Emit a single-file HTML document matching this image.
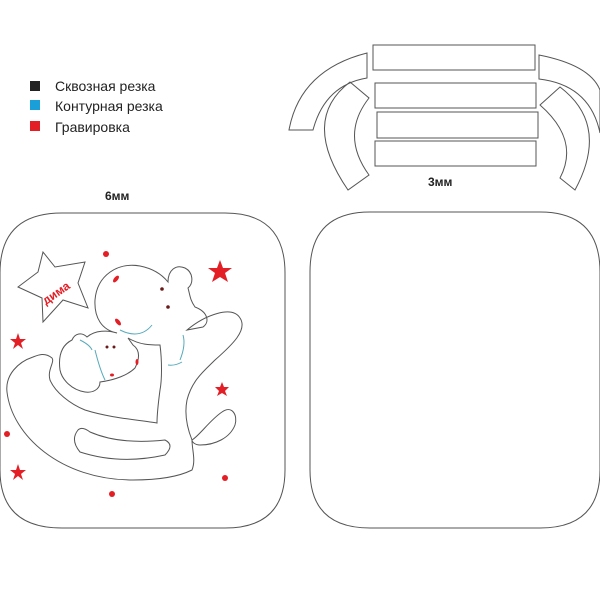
<!DOCTYPE html>
<html><head><meta charset="utf-8"><style>
body{margin:0;background:#fff;width:600px;height:600px;overflow:hidden;font-family:"Liberation Sans",sans-serif}
</style></head><body>
<svg width="600" height="600" viewBox="0 0 600 600" xmlns="http://www.w3.org/2000/svg">
<g font-family="Liberation Sans, sans-serif" font-size="14" fill="#222">
<rect x="30" y="81" width="10" height="10" fill="#222"/>
<rect x="30" y="100" width="10" height="10" fill="#1a9fd8"/>
<rect x="30" y="121" width="10" height="10" fill="#e31e24"/>
<text x="55" y="91">Сквозная резка</text>
<text x="55" y="111">Контурная резка</text>
<text x="55" y="132">Гравировка</text>
<text x="105" y="200" font-size="12" font-weight="bold">6мм</text>
<text x="428" y="186" font-size="12" font-weight="bold">3мм</text>
</g>
<g fill="none" stroke="#555" stroke-width="1">
<rect x="373" y="45" width="162" height="25"/>
<rect x="375" y="83" width="161" height="25"/>
<rect x="377" y="112" width="161" height="26"/>
<rect x="375" y="141" width="161" height="25"/>
<path d="M289,130 Q300,70 367,53 L367,78 Q325,85 313,130 Z"/>
<path d="M350,82 Q300,120 348,190 L369,175 Q340,135 369,98 Z"/>
<path d="M539,55 Q590,65 600,90 L600,133 Q590,85 539,79 Z"/>
<path d="M560,87 Q610,125 575,190 L560,178 Q580,140 540,105 Z"/>
<path d="M62,213 L225,213 Q285,213 285,273 L285,470 Q285,528 225,528 L62,528 Q0,528 0,470 L0,273 Q0,213 62,213 Z"/>
<path d="M370,212 L540,212 Q600,212 600,272 L600,470 Q600,528 540,528 L370,528 Q310,528 310,470 L310,272 Q310,212 370,212 Z"/>
<path d="M43,252 L55,267 L85,262 L78,283 L88,308 L63,300 L43,322 L42,298 L18,287 L38,272 Z"/>
<!-- hippo + rocker contour -->
<path d="M157,423 C140,420 110,418 85,410 C70,404 55,392 50,380 C47,370 55,362 52,358 C45,352 38,355 33,357 C18,362 5,375 7,392 C12,435 60,480 133,480 C160,480 180,476 192,470 C196,460 192,450 192,440 C188,430 184,415 187,400 C192,380 205,370 215,360 C232,345 248,330 240,318 C232,305 205,315 187,330 L203,327 C210,322 208,312 195,307 C190,300 190,295 188,288 C194,283 193,272 185,268 C176,264 168,270 168,282 C160,272 150,268 140,266 C118,262 97,275 95,300 C94,318 102,330 117,333 C108,330 95,330 87,337 C82,332 75,333 72,340 C62,345 58,355 60,370 C62,380 72,390 85,392 C92,393 100,390 100,382 C115,380 128,375 135,368 C140,358 140,350 133,345 L128,338 C140,345 150,345 160,345 C162,360 162,380 160,390 C158,405 157,415 157,423 Z"/>
<path d="M192,440 C200,435 210,420 222,412 C232,405 238,415 235,425 C230,438 215,445 200,445 C195,445 192,442 192,440"/>
<path d="M78,430 Q70,440 80,452 Q120,465 165,455 Q175,445 165,440 Q120,445 90,432 Q82,426 78,430 Z"/>
</g>
<g fill="none" stroke="#5ab" stroke-width="1">
<path d="M120,330 Q140,340 152,325"/><path d="M183,335 Q186,345 180,360"/><path d="M95,350 Q100,370 105,380"/><path d="M168,365 Q175,366 182,362"/><path d="M80,340 Q90,345 92,350"/>
</g>
<g fill="#e31e24">
<circle cx="106" cy="254" r="3"/><circle cx="7" cy="434" r="3"/><circle cx="112" cy="494" r="3"/><circle cx="225" cy="478" r="3"/>
<ellipse cx="116" cy="279" rx="2" ry="4" transform="rotate(40 116 279)"/><ellipse cx="118" cy="322" rx="2" ry="4" transform="rotate(-40 118 322)"/>
<ellipse cx="137" cy="362" rx="1.5" ry="3"/><ellipse cx="112" cy="375" rx="2" ry="1.5"/>
<polygon points="220,260 223,268 232,268 225,273 228,282 220,277 212,282 215,273 208,268 217,268"/>
<polygon points="18,333 20,339 26,339 21,343 23,349 18,345 13,349 15,343 10,339 16,339"/>
<polygon points="222,382 224,387 229,387 225,391 227,396 222,393 217,396 219,391 215,387 220,387"/>
<polygon points="18,464 20,470 26,470 21,474 23,480 18,476 13,480 15,474 10,470 16,470"/>
<text x="38" y="300" font-family="Liberation Sans, sans-serif" font-weight="bold" font-size="12" transform="rotate(-35 50 290)">дима</text>
</g>
<g fill="#6b1a1a"><circle cx="162" cy="289" r="1.8"/><circle cx="168" cy="307" r="1.8"/><circle cx="107" cy="347" r="1.5"/><circle cx="114" cy="347" r="1.5"/></g>
</svg>
</body></html>
